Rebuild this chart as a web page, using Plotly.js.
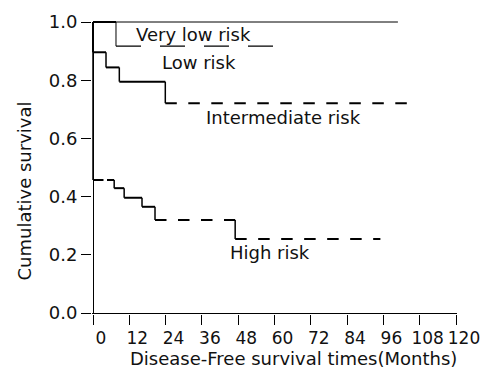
<!DOCTYPE html>
<html><head><meta charset="utf-8">
<script src="https://cdn.plot.ly/plotly-3.0.1.min.js"></script>
<style>html,body{margin:0;padding:0;background:#fff}#chart{width:492px;height:371px}</style>
</head><body><div id="chart"></div>
<script>
// Kaplan-Meier steps (months, cumulative survival)
const veryLowMonths = [0, 100.8];
const veryLowSurvival = [1.0, 1.0];
const lowMonths = [0, 7.6, 59.6];
const lowSurvival = [1.0, 0.917, 0.917];
const intermediateMonths = [0, 0, 4.3, 8.7, 23.9, 103.8];
const intermediateSurvival = [1.0, 0.896, 0.844, 0.795, 0.721, 0.721];
const highMonths = [0, 0, 7.0, 10.3, 16.2, 20.5, 47.0, 95.0];
const highSurvival = [1.0, 0.457, 0.429, 0.396, 0.365, 0.320, 0.254, 0.254];
const groupLabels = ['Very low risk', 'Low risk', 'Intermediate risk', 'High risk'];
const xTickValues = [0, 12, 24, 36, 48, 60, 72, 84, 96, 108, 120];
const yTickValues = [0, 0.2, 0.4, 0.6, 0.8, 1.0];
const xAxisTitle = 'Disease-Free survival times(Months)';
const yAxisTitle = 'Cumulative survival';

// line styles per step piece (kept separate from the data)
const STY = {
  thin: {width: 1, dash: 'solid'},
  thick: {width: 2, dash: 'solid'},
  mid: {width: 1.5, dash: 'solid'},
  dash: {width: 2, dash: '11.5px,11.5px'},
  dashLong: {width: 1.2, dash: '25px,19px'},
  dashShort: {width: 2, dash: '10.5px,3.5px'}
};
const curves = [
  {t: veryLowMonths, s: veryLowSurvival, h: ['thin'], v: [null]},
  {t: lowMonths, s: lowSurvival, h: ['thick', 'dashLong'], v: ['thin', null]},
  {t: intermediateMonths, s: intermediateSurvival, h: [null, 'thick', 'thick', 'thick', 'dash'], v: ['thick', 'mid', 'mid', 'mid', null]},
  {t: highMonths, s: highSurvival, h: [null, 'dashShort', 'thick', 'thick', 'thick', 'dash', 'dash'], v: ['mid', 'mid', 'mid', 'mid', 'mid', 'mid', null]}
];

const traces = [];
function piece(x, y, styleKey) {
  const st = STY[styleKey];
  traces.push({x: x, y: y, type: 'scatter', mode: 'lines', hoverinfo: 'skip', showlegend: false,
    line: {color: '#000', width: st.width, dash: st.dash}});
}
curves.forEach(c => {
  for (let i = 0; i < c.t.length - 1; i++) {
    if (c.h[i] && c.t[i + 1] > c.t[i]) piece([c.t[i], c.t[i + 1]], [c.s[i], c.s[i]], c.h[i]);
    if (c.v[i] && c.s[i + 1] !== c.s[i]) piece([c.t[i + 1], c.t[i + 1]], [c.s[i], c.s[i + 1]], c.v[i]);
  }
});

const FONT = 'DejaVu Sans, Verdana, sans-serif';
const TXT = '#111';
const labelPos = [[33.1, 0.956], [35.1, 0.862], [63.1, 0.6735], [58.4, 0.208]];
const annotations = groupLabels.map((g, i) => ({
  text: g, x: labelPos[i][0], y: labelPos[i][1], xref: 'x', yref: 'y',
  xanchor: 'center', yanchor: 'middle', showarrow: false,
  font: {family: FONT, size: 18, color: TXT}
}));
annotations.push({text: xAxisTitle, xref: 'paper', yref: 'paper', x: 0.5534, y: -0.153,
  xanchor: 'center', yanchor: 'middle', showarrow: false, font: {family: FONT, size: 18, color: TXT}});
annotations.push({text: yAxisTitle, xref: 'paper', yref: 'paper', x: -0.1822, y: 0.4198, textangle: -90,
  xanchor: 'center', yanchor: 'middle', showarrow: false, font: {family: FONT, size: 18, color: TXT}});

const layout = {
  width: 492, height: 371,
  margin: {l: 92, r: 35, t: 21, b: 57, pad: 0},
  paper_bgcolor: '#fff', plot_bgcolor: '#fff',
  showlegend: false, hovermode: false,
  xaxis: {range: [-1 / 3.025, 120 + 1 / 3.025], tickvals: xTickValues, tickangle: 0, ticks: 'outside', ticklen: 10,
    tickwidth: 1, tickcolor: '#000', showgrid: false, showline: false, zeroline: true,
    zerolinecolor: '#000', zerolinewidth: 1, ticklabelshift: 8, ticklabelstandoff: -1,
    tickfont: {family: FONT, size: 17, color: TXT}, fixedrange: true},
  yaxis: {range: [-1 / 291, 1 + 1 / 291], tickvals: yTickValues, tickformat: '.1f', ticks: 'outside', ticklen: 10,
    tickwidth: 1, tickcolor: '#000', showgrid: false, showline: false, zeroline: true,
    zerolinecolor: '#000', zerolinewidth: 1,
    tickfont: {family: FONT, size: 18, color: TXT}, fixedrange: true},
  annotations: annotations
};
Plotly.newPlot('chart', traces, layout, {displayModeBar: false, staticPlot: true});
</script>
</body></html>
